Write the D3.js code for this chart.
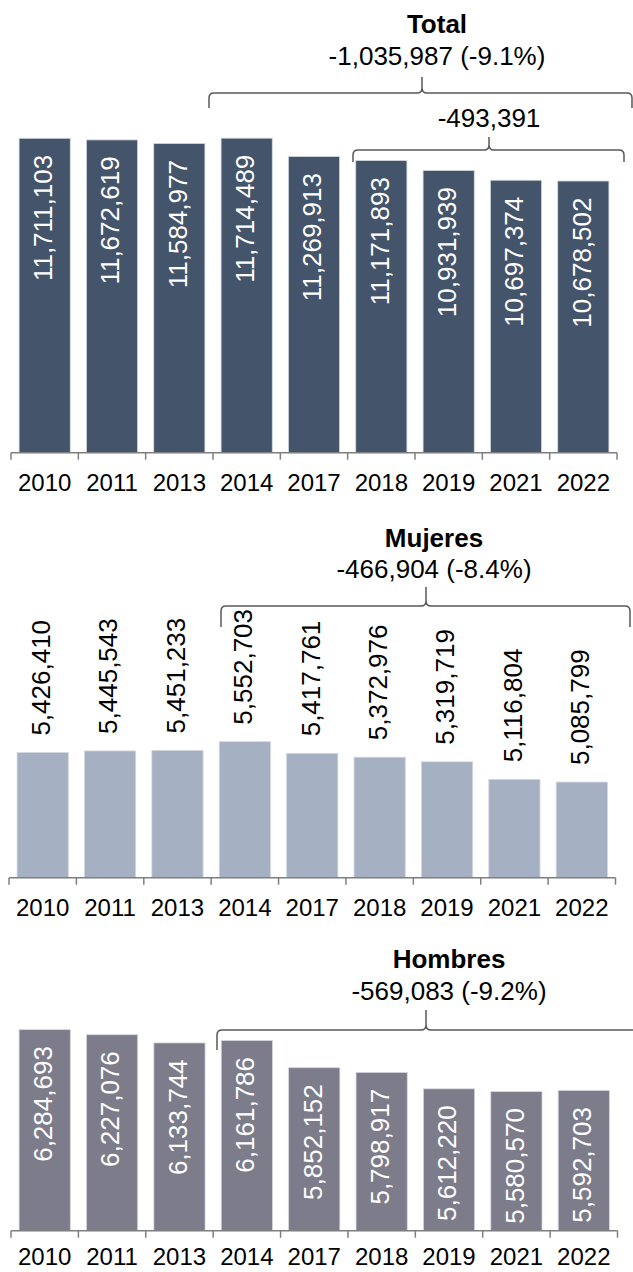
<!DOCTYPE html>
<html>
<head>
<meta charset="utf-8">
<script src="https://cdn.jsdelivr.net/npm/d3@7"></script>
<style>
  body { margin: 0; background: #fff; }
  svg { display: block; font-family: Arial, "Liberation Sans", sans-serif; }
</style>
</head>
<body>
<div id="chart"></div>
<script>
// data
const years = ['2010', '2011', '2013', '2014', '2017', '2018', '2019', '2021', '2022'];
const total = [11711103, 11672619, 11584977, 11714489, 11269913, 11171893, 10931939, 10697374, 10678502];
const mujeres = [5426410, 5445543, 5451233, 5552703, 5417761, 5372976, 5319719, 5116804, 5085799];
const hombres = [6284693, 6227076, 6133744, 6161786, 5852152, 5798917, 5612220, 5580570, 5592703];
const titles = ['Total', 'Mujeres', 'Hombres'];
const changes = ['-1,035,987 (-9.1%)', '-466,904 (-8.4%)', '-569,083 (-9.2%)'];
const subChange = '-493,391';

const W = 633, H = 1272;
const fmt = d3.format(',');

const svg = d3.select('#chart').append('svg')
    .attr('width', W)
    .attr('height', H);

// layout for each panel
const panels = [
    { values: total, color: '#44546a', axisY: 452.7, v0: 4.108e6, vMax: 12e6, pxPerM: 41.35,
      xr: [11, 617], inside: true, tx: 437, titleY: 33, subY: 65, yearY: 491,
      brackets: [
          { x0: 209, x1: 632, xm: 422, yH: 93, yEnd: 108, yTop: 77 },
          { x0: 353, x1: 624, xm: 489, yH: 150, yEnd: 162, yTop: 137, label: subChange, ly: 127 }
      ] },
    { values: mujeres, color: '#a5b0c3', axisY: 877.7, v0: 3.98e6, vMax: 6e6, pxPerM: 86.5,
      xr: [9, 615.5], inside: false, tx: 434, titleY: 547, subY: 578, yearY: 916,
      brackets: [
          { x0: 221, x1: 630, xm: 426, yH: 606, yEnd: 627, yTop: 587 }
      ] },
    { values: hombres, color: '#7d7c8b', axisY: 1230.7, v0: 4e6, vMax: 6.5e6, pxPerM: 88,
      xr: [11, 617.5], inside: true, tx: 449, titleY: 968, subY: 1000, yearY: 1265,
      brackets: [
          { x0: 217, x1: 670, xm: 426, yH: 1030, yEnd: 1050, yTop: 1010 }
      ] }
];

function bracketPath(b) {
    const r = 5;
    return `M${b.x0},${b.yEnd} L${b.x0},${b.yH + r} Q${b.x0},${b.yH} ${b.x0 + r},${b.yH}` +
        ` L${b.xm - r},${b.yH} Q${b.xm},${b.yH} ${b.xm},${b.yH - r} L${b.xm},${b.yTop}` +
        ` M${b.xm},${b.yH - r} Q${b.xm},${b.yH} ${b.xm + r},${b.yH}` +
        ` L${b.x1 - r},${b.yH} Q${b.x1},${b.yH} ${b.x1},${b.yH + r} L${b.x1},${b.yEnd}`;
}

panels.forEach((p, i) => {
    const g = svg.append('g');

    const x = d3.scaleBand()
        .domain(years)
        .range(p.xr)
        .paddingInner(0.24)
        .paddingOuter(0.12);
    const xb = d3.scaleBand().domain(years).range(p.xr).padding(0);

    const y = d3.scaleLinear()
        .domain([p.v0, p.vMax])
        .range([p.axisY, p.axisY - p.pxPerM * (p.vMax - p.v0) / 1e6]);

    const data = years.map((yr, j) => ({ year: yr, value: p.values[j] }));

    g.selectAll('.bar')
        .data(data)
        .enter().append('rect')
        .attr('class', 'bar')
        .attr('x', d => x(d.year))
        .attr('y', d => y(d.value))
        .attr('width', x.bandwidth())
        .attr('height', d => p.axisY - y(d.value))
        .attr('fill', p.color)
        .attr('stroke', '#d3d7de')
        .attr('stroke-width', 0.8);

    // axis line with ticks at category boundaries
    g.append('line')
        .attr('x1', p.xr[0]).attr('x2', p.xr[1])
        .attr('y1', p.axisY).attr('y2', p.axisY)
        .attr('stroke', '#7f7f7f').attr('stroke-width', 1.5);
    const bounds = years.map(yr => xb(yr)).concat([p.xr[1]]);
    g.selectAll('.tick')
        .data(bounds)
        .enter().append('line')
        .attr('x1', d => d).attr('x2', d => d)
        .attr('y1', p.axisY).attr('y2', p.axisY + 7)
        .attr('stroke', '#7f7f7f').attr('stroke-width', 1.5);

    g.selectAll('.year')
        .data(years)
        .enter().append('text')
        .attr('x', d => xb(d) + xb.bandwidth() / 2)
        .attr('y', p.yearY)
        .attr('text-anchor', 'middle')
        .attr('font-size', 24)
        .attr('fill', '#000')
        .text(d => d);

    // value labels, rotated
    g.selectAll('.val')
        .data(data)
        .enter().append('text')
        .attr('transform', d => {
            const cx = x(d.year) + x.bandwidth() / 2 - 2;
            const ty = p.inside ? y(d.value) + 16.5 : y(d.value) - 17;
            return `translate(${cx},${ty}) rotate(-90)`;
        })
        .attr('dy', '0.36em')
        .attr('text-anchor', p.inside ? 'end' : 'start')
        .attr('font-size', 26)
        .attr('fill', p.inside ? '#fff' : '#000')
        .text(d => fmt(d.value));

    // title and change
    g.append('text')
        .attr('x', p.tx).attr('y', p.titleY)
        .attr('text-anchor', 'middle')
        .attr('font-size', 26)
        .attr('font-weight', 'bold')
        .text(titles[i]);
    g.append('text')
        .attr('x', p.tx).attr('y', p.subY)
        .attr('text-anchor', 'middle')
        .attr('font-size', 26)
        .text(changes[i]);

    p.brackets.forEach(b => {
        g.append('path')
            .attr('d', bracketPath(b))
            .attr('fill', 'none')
            .attr('stroke', '#595959')
            .attr('stroke-width', 1.5);
        if (b.label) {
            g.append('text')
                .attr('x', b.xm).attr('y', b.ly)
                .attr('text-anchor', 'middle')
                .attr('font-size', 26)
                .text(b.label);
        }
    });
});
</script>
</body>
</html>
